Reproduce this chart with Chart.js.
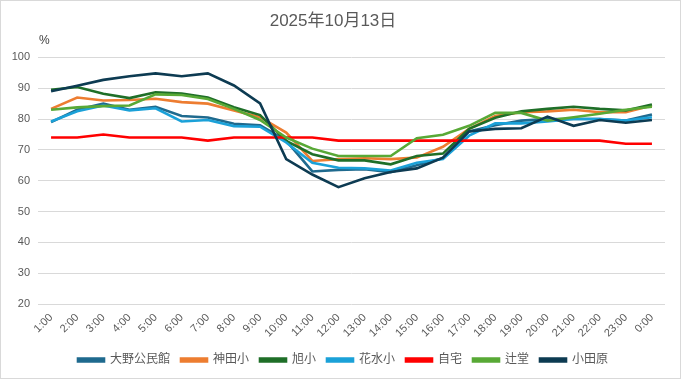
<!DOCTYPE html>
<html>
<head>
<meta charset="utf-8">
<script src="https://cdn.jsdelivr.net/npm/chart.js@4"></script>
<style>
  html, body { margin: 0; padding: 0; background: #fff; }
  #wrap { position: relative; width: 679px; height: 377px; border: 1px solid #d9d9d9; }
  canvas { display: block; }
</style>
</head>
<body>
<div id="wrap"><canvas id="c" width="679" height="377"></canvas></div>
<script>
const labels = ["1:00","2:00","3:00","4:00","5:00","6:00","7:00","8:00","9:00","10:00","11:00","12:00","13:00","14:00","15:00","16:00","17:00","18:00","19:00","20:00","21:00","22:00","23:00","0:00"];
const seriesNames = ["大野公民館","神田小","旭小","花水小","自宅","辻堂","小田原"];
const oono     = [79, 83, 85, 83, 84, 81, 80.5, 78.5, 78, 73, 63, 63.5, 63.7, 62.8, 65, 67.3, 76, 78, 79.5, 80, 80, 80, 79.5, 81.5];
const kanda    = [83.3, 87, 86, 86.2, 86.6, 85.5, 85, 82.8, 80.6, 75.6, 66.4, 67, 67.3, 67, 67.5, 71, 76.8, 81, 82.2, 82.5, 83, 82.2, 82.2, 84.4];
const asahi    = [89.5, 90.4, 88.2, 86.8, 88.7, 88.3, 87, 83.8, 81.3, 72.9, 68.6, 66.6, 66.6, 65.3, 68, 68.8, 76.8, 80.4, 82.5, 83.3, 84, 83.3, 82.8, 84.7];
const hanamizu = [79.2, 82.5, 84.4, 82.8, 83.5, 79.2, 79.7, 77.7, 77.5, 72.4, 65.8, 64.2, 64, 63.3, 65.8, 67, 74.6, 78.6, 78.6, 79.2, 80, 80, 79.5, 80.6];
const jitaku   = [74, 74, 75, 74, 74, 74, 73, 74, 74, 74, 74, 73, 73, 73, 73, 73, 73, 73, 73, 73, 73, 73, 72, 72];
const tsujido  = [83, 83.8, 84.2, 84.4, 88, 87.8, 86.5, 83.3, 79.7, 74, 70.4, 68, 68, 68, 73.8, 74.9, 77.8, 82, 82, 79.5, 80.6, 81.7, 83, 84];
const odawara  = [89, 90.8, 92.7, 93.9, 94.8, 93.9, 94.8, 90.9, 85.1, 67, 62, 57.9, 60.8, 62.8, 64, 67.5, 76, 76.8, 77, 80.8, 77.8, 79.7, 78.8, 79.7];
const yTicks = [20, 30, 40, 50, 60, 70, 80, 90, 100];

const colors = ["#1f6a8e", "#ed7d31", "#1f6f28", "#1ba1d8", "#ff0000", "#58a936", "#0d3b52"];
const values = [oono, kanda, asahi, hanamizu, jitaku, tsujido, odawara];

const FONT = '"Liberation Sans", "Noto Sans CJK JP", sans-serif';
const TXT = '#595959';

const percentPlugin = {
  id: 'percentLabel',
  afterLayout(chart) {
    if (chart.legend) { chart.legend.left += 10; chart.legend.right += 10; }
  },
  afterDraw(chart) {
    const ctx = chart.ctx;
    ctx.save();
    ctx.font = '12px ' + FONT;
    ctx.fillStyle = '#404040';
    ctx.textAlign = 'left';
    ctx.textBaseline = 'middle';
    ctx.fillText('%', 38, 40);
    ctx.restore();
  }
};

new Chart(document.getElementById('c'), {
  type: 'line',
  data: {
    labels: labels,
    datasets: seriesNames.map((n, i) => ({
      label: n,
      data: values[i],
      borderColor: colors[i],
      backgroundColor: colors[i],
      borderWidth: 2.6,
      pointRadius: 0,
      tension: 0,
      order: -i
    }))
  },
  options: {
    responsive: false,
    animation: false,
    layout: { padding: { left: 0, right: 15, top: 0, bottom: 2 } },
    plugins: {
      title: {
        display: true,
        text: '2025年10月13日',
        color: TXT,
        font: { family: FONT, size: 17, weight: 'normal' },
        padding: { top: 10, bottom: 26 }
      },
      legend: {
        position: 'bottom',
        labels: {
          color: TXT,
          font: { family: FONT, size: 12 },
          boxWidth: 26,
          boxHeight: 3,
          padding: 11,
          sort: (a, b) => a.datasetIndex - b.datasetIndex
        }
      },
      tooltip: { enabled: false }
    },
    scales: {
      x: {
        offset: true,
        grid: { display: false, drawTicks: false },
        border: { display: false },
        ticks: {
          color: TXT,
          font: { family: FONT, size: 11 },
          minRotation: 45,
          maxRotation: 45,
          autoSkip: false,
          padding: 7
        },
        afterFit(scale) { scale.height = 39; }
      },
      y: {
        min: 20,
        max: 100,
        afterBuildTicks(scale) { scale.ticks = yTicks.map(v => ({ value: v })); },
        grid: { color: '#d9d9d9', drawTicks: false, lineWidth: 1 },
        border: { display: false },
        ticks: {
          color: TXT,
          font: { family: FONT, size: 11 },
          padding: 8
        },
        afterFit(scale) { scale.width = 37; }
      }
    }
  },
  plugins: [percentPlugin]
});
</script>
</body>
</html>
